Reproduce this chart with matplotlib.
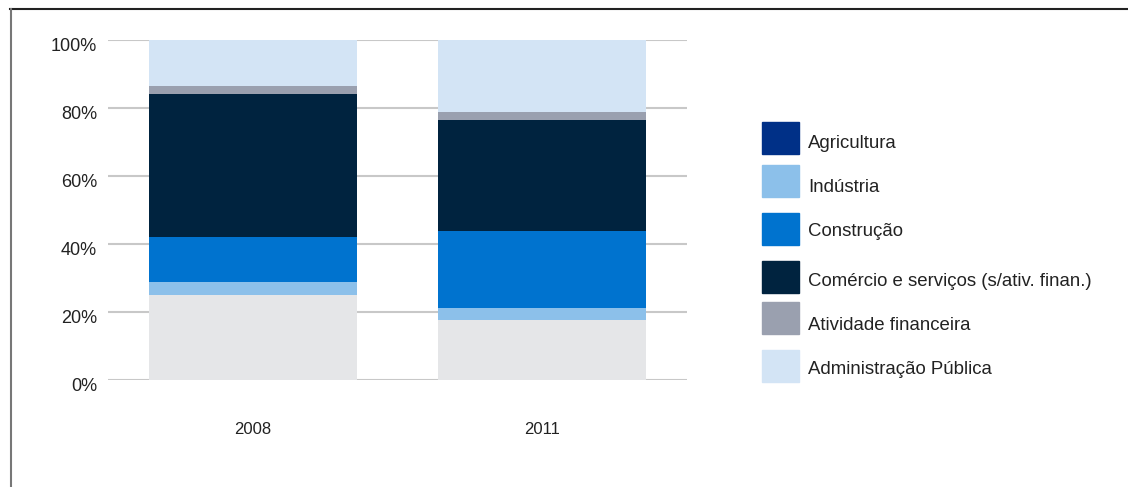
import matplotlib.pyplot as plt
import matplotlib.transforms as mtrans
from matplotlib.patches import Rectangle
from matplotlib.lines import Line2D

plt.rcParams['font.family'] = ['Liberation Sans', 'DejaVu Sans']

anos = ["2008", "2011"]
setores = ["Agricultura", "Indústria", "Construção",
           "Comércio e serviços (s/ativ. finan.)", "Atividade financeira",
           "Administração Pública"]
agricultura = [25.0, 17.6]
industria = [3.8, 3.5]
construcao = [13.2, 22.6]
comercio = [42.1, 32.9]
financeira = [2.4, 2.1]
administracao = [13.5, 21.3]

series = [agricultura, industria, construcao, comercio, financeira, administracao]
# the bottom block is drawn light grey in the original, legend swatch is dark blue
bar_cores = ["#e5e6e8", "#8cc0ea", "#0073cf", "#00233f", "#9aa0af", "#d3e4f5"]
leg_cores = ["#003087", "#8cc0ea", "#0073cf", "#00233f", "#9aa0af", "#d3e4f5"]

W, H = 1128, 487
fig = plt.figure(figsize=(W / 100, H / 100), dpi=100, facecolor='white')
ax = fig.add_axes([108 / W, (H - 380) / H, (687 - 108) / W, 340 / H])

x = range(len(anos))
base = [0, 0]
for vals, cor, nome in zip(series, bar_cores, setores):
    ax.bar(x, vals, width=0.72, bottom=base, color=cor, zorder=2, label=nome)
    base = [b + v for b, v in zip(base, vals)]

ax.set_xlim(-0.5, 1.5)
ax.set_ylim(0, 100)
ax.set_yticks([0, 20, 40, 60, 80, 100])
ax.set_yticklabels(["0%", "20%", "40%", "60%", "80%", "100%"])
ax.set_xticks(list(x))
ax.set_xticklabels(anos)
ax.yaxis.grid(True, color='#c8c8c8', linewidth=1.5, zorder=0)
ax.set_axisbelow(True)
for s in ax.spines.values():
    s.set_visible(False)
ax.tick_params(axis='y', length=0, pad=8, labelsize=13, labelcolor='#222222')
ax.tick_params(axis='x', length=0, pad=30, labelsize=12, labelcolor='#222222')
# labels sit a few px below the grid lines in the original
off = mtrans.ScaledTranslation(0, -0.045, fig.dpi_scale_trans)
for lb in ax.get_yticklabels():
    lb.set_transform(lb.get_transform() + off)

# legend drawn by hand, spacing is uneven in the original
tops = [122, 165, 213, 261, 302, 350]
txt_y = [143, 187, 232, 282, 325, 369]
for nome, cor, t, ty in zip(setores, leg_cores, tops, txt_y):
    fig.add_artist(Rectangle((762 / W, (H - t - 32) / H), 37 / W, 32 / H,
                             transform=fig.transFigure, color=cor))
    fig.text(808 / W, (H - ty) / H, nome, fontsize=13.4, color='#222222',
             va='center', ha='left')

# frame lines
fig.add_artist(Line2D([10 / W, 1], [(H - 8.5) / H] * 2, color='#222222', lw=1.5,
                      transform=fig.transFigure))
fig.add_artist(Line2D([11 / W] * 2, [0, (H - 8.5) / H], color='#777777', lw=1.5,
                      transform=fig.transFigure))

plt.savefig('out.png', dpi=100)
